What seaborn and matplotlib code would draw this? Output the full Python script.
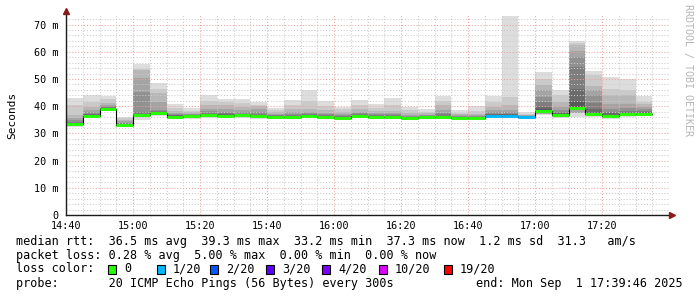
import numpy as np
import pandas as pd
import matplotlib
matplotlib.use("Agg")
import matplotlib.pyplot as plt
import matplotlib.transforms as mtransforms
from matplotlib.patches import Rectangle
from matplotlib.ticker import MultipleLocator
import seaborn as sns

# ---------------- data ----------------
tick_labels = ["14:40", "15:00", "15:20", "15:40", "16:00", "16:20", "16:40", "17:00", "17:20"]
y_ticks = [0, 10, 20, 30, 40, 50, 60, 70]

median = [33.4, 36.4, 39.0, 33.2, 36.6, 37.4, 36.2, 36.3, 36.6, 36.5,
          36.7, 36.3, 35.9, 36.0, 36.3, 36.0, 35.8, 36.3, 36.0, 36.0,
          35.6, 35.9, 36.0, 35.8, 35.8, 36.3, 36.4, 36.0, 38.4, 36.7,
          39.3, 37.1, 36.4, 37.2, 37.3]
loss = [0, 0, 0, 0, 0, 0, 0, 0, 0, 0,
        0, 0, 0, 0, 0, 0, 0, 0, 0, 0,
        0, 0, 0, 0, 0, 1, 1, 1, 0, 0,
        0, 0, 0, 0, 0]
ping_max = [43.0, 44.0, 43.6, 36.0, 55.7, 48.4, 40.8, 39.2, 44.0, 42.7,
            42.7, 41.4, 39.3, 42.4, 45.8, 41.9, 39.7, 42.1, 40.9, 43.1,
            39.7, 38.8, 43.6, 38.5, 39.9, 43.6, 73.3, 37.8, 52.7, 45.8,
            64.1, 53.1, 50.7, 50.0, 43.8]
ping19 = [40.5, 41.5, 42.5, 35.5, 53.8, 46.5, 39.2, 38.4, 42.0, 41.5,
          41.0, 40.6, 38.5, 40.5, 42.0, 40.0, 38.8, 40.5, 39.5, 40.5,
          38.5, 38.0, 42.0, 37.6, 38.3, 41.5, 43.3, 37.3, 50.1, 44.0,
          63.3, 51.3, 46.4, 46.0, 41.5]
ping18 = [36.6, 39.7, 41.1, 34.8, 53.2, 44.7, 38.3, 37.8, 40.3, 40.3,
          39.8, 39.9, 37.8, 39.0, 39.1, 38.5, 38.0, 39.0, 38.3, 38.3,
          37.5, 37.4, 40.3, 37.0, 37.2, 39.7, 40.3, 36.9, 47.9, 41.5,
          62.5, 47.6, 44.0, 44.0, 40.9]
ping17 = [35.5, 38.6, 40.5, 34.4, 50.2, 41.6, 37.6, 37.3, 39.0, 39.0,
          38.5, 38.8, 37.3, 37.8, 38.0, 37.5, 37.2, 38.0, 37.5, 37.5,
          36.8, 36.9, 38.5, 36.6, 36.7, 38.5, 38.5, 36.6, 45.8, 39.7,
          60.4, 45.8, 40.9, 40.9, 39.7]
ping16 = [34.8, 37.8, 40.0, 34.0, 45.3, 38.6, 37.2, 37.0, 38.3, 38.0,
          37.7, 37.8, 36.9, 37.2, 37.4, 37.0, 36.8, 37.4, 37.0, 37.0,
          36.4, 36.6, 37.6, 36.3, 36.4, 37.8, 37.7, 36.4, 43.3, 38.6,
          58.0, 44.0, 39.1, 39.3, 38.8]
ping15 = [34.2, 37.3, 39.7, 33.8, 38.0, 38.1, 36.9, 36.8, 37.6, 37.5,
          37.3, 37.3, 36.6, 36.8, 37.0, 36.7, 36.5, 37.0, 36.7, 36.6,
          36.1, 36.4, 37.0, 36.1, 36.2, 37.3, 37.3, 36.3, 41.5, 37.9,
          54.3, 41.0, 38.0, 38.4, 38.2]
ping14 = [33.8, 37.0, 39.4, 33.6, 37.3, 37.8, 36.6, 36.6, 37.2, 37.1,
          37.0, 36.9, 36.3, 36.5, 36.7, 36.4, 36.2, 36.7, 36.4, 36.3,
          35.9, 36.2, 36.5, 36.0, 36.0, 37.0, 37.0, 36.2, 39.7, 37.4,
          46.4, 38.8, 37.4, 37.9, 37.8]
ping13 = [33.6, 36.7, 39.2, 33.4, 36.9, 37.6, 36.4, 36.5, 36.9, 36.8,
          36.9, 36.6, 36.1, 36.2, 36.5, 36.2, 36.0, 36.5, 36.2, 36.1,
          35.7, 36.0, 36.2, 35.9, 35.9, 36.6, 36.7, 36.1, 38.9, 37.0,
          41.5, 37.8, 36.9, 37.5, 37.5]
ping_lo = [33.0, 36.0, 38.6, 32.9, 36.0, 36.9, 35.8, 35.9, 36.2, 36.1,
           36.2, 35.8, 35.6, 35.7, 35.9, 35.7, 35.4, 35.9, 35.7, 35.7,
           35.3, 35.6, 35.6, 35.4, 35.5, 35.9, 36.0, 35.6, 37.3, 36.2,
           37.5, 36.4, 35.9, 36.7, 36.8]
ping_min = [32.5, 35.6, 38.2, 32.5, 35.0, 36.4, 35.4, 35.4, 35.8, 35.6,
            35.7, 35.3, 35.2, 35.3, 35.5, 35.3, 35.0, 35.5, 35.3, 35.3,
            35.0, 35.2, 35.2, 35.0, 35.2, 35.5, 35.6, 35.3, 36.6, 35.8,
            36.0, 35.9, 35.4, 36.2, 36.3]

legend_labels = ["0", "1/20", "2/20", "3/20", "4/20", "10/20", "19/20"]
legend_colors = ["#26ff00", "#00b8ff", "#0059ff", "#5e00ff", "#7e00ff", "#dd00ff", "#ff0000"]

# ---------------- figure ----------------
sns.set_theme(style="white")
plt.rcParams["font.family"] = ["DejaVu Sans Mono", "DejaVu Sans"]

W, H = 697, 297
fig = plt.figure(figsize=(W / 100, H / 100), dpi=100)
fig.patch.set_facecolor("white")

left_px, right_px, top_px, bottom_px = 66, 669, 14, 215
ax = fig.add_axes([left_px / W, 1 - bottom_px / H,
                   (right_px - left_px) / W, (bottom_px - top_px) / H])
ax.set_facecolor("white")

slot = 5.0
starts = np.arange(len(median)) * slot
med = np.array(median)

uppers = [ping_max, ping19, ping18, ping17, ping16, ping15, ping14, ping13]
greys = [221, 202, 183, 164, 145, 126, 107, 88]
for k, (up, g) in enumerate(zip(uppers, greys)):
    if k == 0:
        low = np.array(ping_min)
    elif k < 4:
        low = np.array(ping_lo)
    else:
        low = med
    up = np.array(up)
    col = "#{0:02x}{0:02x}{0:02x}".format(g)
    ax.bar(starts, up - low, bottom=low, width=slot, align="edge",
           color=col, linewidth=0, zorder=1)

# median step line (black) and loss-coloured segments
step_df = pd.DataFrame({"t": np.append(starts, starts[-1] + slot),
                        "v": np.append(med, med[-1])})
sns.lineplot(data=step_df, x="t", y="v", drawstyle="steps-post",
             color="#000000", linewidth=0.8, ax=ax, zorder=3)
seg_colors = [legend_colors[l] for l in loss]
ax.hlines(med, starts, starts + slot, colors=seg_colors, linewidth=2.1, zorder=4)

# axes
ax.set_xlim(0, 180)
ax.set_ylim(0, 73.9)
ax.set_xlabel("")
ax.set_ylabel("")
ax.xaxis.set_minor_locator(MultipleLocator(5))
ax.yaxis.set_minor_locator(MultipleLocator(2))
ax.set_xticks(np.arange(len(tick_labels)) * 20)
ax.set_xticklabels(tick_labels)
ax.set_yticks(y_ticks)
ax.set_yticklabels([("%d m" % v) if v else "0" for v in y_ticks])

ax.set_axisbelow(False)
ax.grid(True, which="minor", color="#cbcbcb", linestyle=(0, (1, 1.8)), linewidth=0.75, zorder=2)
ax.grid(True, which="major", color="#eea0a0", linestyle=(0, (1, 1.8)), linewidth=0.75, zorder=2)

ax.tick_params(axis="both", which="both", length=0)
ax.tick_params(axis="y", pad=5.5, labelsize=7.3, colors="#000000")
ax.tick_params(axis="x", pad=4.5, labelsize=7.3, colors="#000000")
for lab in ax.get_xticklabels() + ax.get_yticklabels():
    lab.set_family(["DejaVu Sans Mono", "DejaVu Sans"])

for s in ["top", "right"]:
    ax.spines[s].set_visible(False)
for s in ["left", "bottom"]:
    ax.spines[s].set_color("#1a1a1a")
    ax.spines[s].set_linewidth(1.0)
    ax.spines[s].set_zorder(7)

# arrows
tr_up = mtransforms.offset_copy(ax.transAxes, fig=fig, x=0, y=3, units="dots")
ax.plot([0], [1], marker="^", markersize=4.5, color="#8b1a1a", transform=tr_up, clip_on=False, zorder=8)
tr_rt = mtransforms.offset_copy(ax.transAxes, fig=fig, x=3, y=0, units="dots")
ax.plot([1], [0], marker=">", markersize=4.5, color="#8b1a1a", transform=tr_rt, clip_on=False, zorder=8)

# labels
fig.text(12 / W, 1 - 115 / H, "Seconds", rotation=90, ha="center", va="center",
         fontsize=8, color="#000000")
fig.text(688 / W, 1 - 4 / H, "RRDTOOL / TOBI OETIKER", rotation=270, ha="center", va="top",
         fontsize=7.2, color="#b4b4b4")

fs = 8.5
def ftext(x, y, s, **kw):
    fig.text(x / W, 1 - y / H, s, ha=kw.pop("ha", "left"), va="center", fontsize=fs,
             color="#000000", **kw)

ftext(16, 241, "median rtt:  36.5 ms avg  39.3 ms max  33.2 ms min  37.3 ms now  1.2 ms sd  31.3   am/s")
ftext(16, 255, "packet loss: 0.28 % avg  5.00 % max  0.00 % min  0.00 % now")
ftext(16, 269, "loss color:")
box_x = [108, 157, 210, 266, 322, 379, 444]
for bx, lab, c in zip(box_x, legend_labels, legend_colors):
    fig.patches.append(Rectangle((bx / W, 1 - 273.5 / H), 8 / W, 9 / H,
                                 transform=fig.transFigure, facecolor=c,
                                 edgecolor="#000000", linewidth=0.8))
    ftext(bx + 16, 269, lab)
ftext(16, 284, "probe:       20 ICMP Echo Pings (56 Bytes) every 300s")
ftext(683, 284, "end: Mon Sep  1 17:39:46 2025", ha="right")

fig.savefig("out.png", dpi=100, facecolor="white")
